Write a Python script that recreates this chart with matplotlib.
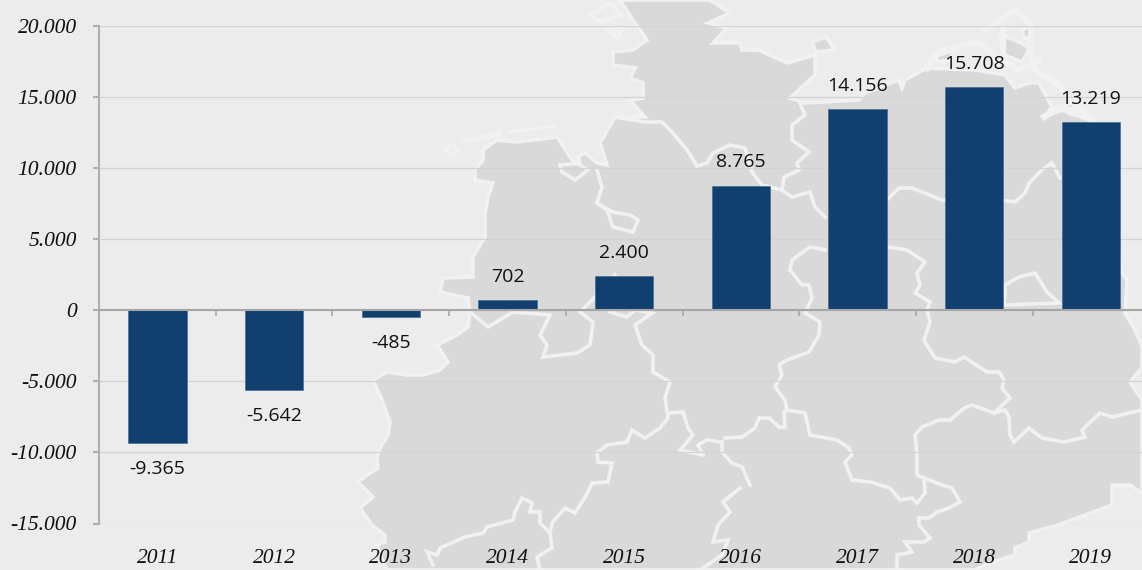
import matplotlib
matplotlib.use("Agg")
import matplotlib.pyplot as plt
from matplotlib.patches import Polygon

years = ["2011", "2012", "2013", "2014", "2015", "2016", "2017", "2018", "2019"]
values = [-9365, -5642, -485, 702, 2400, 8765, 14156, 15708, 13219]
value_labels = ["-9.365", "-5.642", "-485", "702", "2.400", "8.765", "14.156", "15.708", "13.219"]
y_ticks = [20000, 15000, 10000, 5000, 0, -5000, -10000, -15000]
y_tick_labels = ["20.000", "15.000", "10.000", "5.000", "0", "-5.000", "-10.000", "-15.000"]

BG = "#ececec"
LAND = "#d9d9d9"
STROKE = "#f1f1f1"
BAR = "#113f6f"

W, H = 1142, 570
fig = plt.figure(figsize=(W / 100, H / 100), dpi=100, facecolor=BG)

# decorative background map, in picture pixels
bg = fig.add_axes([0, 0, 1, 1], zorder=0)
bg.set_xlim(0, W)
bg.set_ylim(H, 0)
bg.axis("off")

land = [
    (615, 117), (600, 143), (607, 165), (597, 163), (585, 153), (578, 157), (580, 163), (560, 165), (562, 172),
    (575, 180), (588, 170), (572, 160), (557, 137), (517, 142), (497, 140), (483, 150), (483, 160), (475, 170),
    (475, 180), (493, 183), (488, 197), (485, 213), (485, 237), (473, 257), (473, 277), (443, 278), (440, 292),
    (468, 298), (470, 312), (468, 327), (457, 335), (437, 345), (448, 362), (440, 370), (423, 375), (407, 375),
    (387, 372), (373, 380), (382, 400), (390, 422), (388, 435), (380, 448), (377, 457), (378, 468), (367, 475),
    (358, 482), (373, 497), (360, 508), (372, 525), (385, 535), (385, 542), (377, 545), (383, 562), (387, 570),
    (975, 570), (992, 562), (1015, 555), (1015, 548), (1029, 542), (1029, 533), (1058, 525), (1085, 515),
    (1112, 505), (1112, 485), (1130, 485), (1142, 493), (1142, 400), (1130, 382), (1142, 367), (1142, 347),
    (1135, 330), (1125, 313), (1127, 280), (1120, 270), (1110, 140), (1089, 120), (1062, 110), (1044, 117),
    (1052, 107), (1039, 83), (1029, 83), (1015, 88), (1005, 75), (975, 70), (927, 68), (905, 80), (902, 88),
    (899, 80), (865, 93), (859, 100), (805, 103), (790, 98), (815, 75), (815, 55), (787, 63), (759, 50),
    (742, 50), (740, 43), (713, 43), (727, 28), (708, 23), (730, 13), (710, 0), (620, 0), (633, 20), (647, 40),
    (633, 50), (613, 52), (613, 65), (635, 68), (630, 78), (643, 83), (643, 98), (630, 100), (645, 117),
]
islands = [
    [(812, 42), (826, 37), (835, 50), (816, 52)],
    [(1000, 35), (1015, 40), (1030, 48), (1022, 62), (1005, 55)],
    [(1022, 30), (1032, 26), (1032, 38), (1024, 38)],
    [(1060, 108), (1075, 100), (1088, 118), (1070, 114)],
    [(938, 50), (955, 46), (950, 60), (936, 62)],
]
small_outline = [
    [(445, 150), (453, 144), (458, 150), (450, 155), (445, 150)],
    [(462, 140), (500, 133), (500, 135), (462, 142)],
    [(510, 132), (555, 126)],
    [(590, 15), (610, 3), (622, 15), (600, 22), (590, 15)],
    [(607, 30), (622, 28), (618, 38), (607, 30)],
]
baltic_band = [
    [(927, 68), (935, 55), (975, 42), (990, 50), (1002, 70)],
    [(985, 30), (1000, 20), (1015, 10), (1032, 25), (1030, 45)],
    [(1003, 30), (1003, 60), (1018, 70), (1040, 60)],
    [(1030, 50), (1035, 70), (1060, 85), (1070, 100), (1090, 118)],
    [(1044, 117), (1060, 108), (1085, 112)],
]
for poly in [land] + islands:
    bg.add_patch(Polygon(poly, closed=True, facecolor=LAND, edgecolor=STROKE, linewidth=2.6, joinstyle="miter"))

borders = [
    [(615, 117), (645, 122), (662, 122), (673, 133), (687, 150), (697, 166), (707, 163), (713, 153), (730, 145),
     (745, 148), (752, 172), (762, 185), (782, 190)],
    [(597, 170), (602, 187), (597, 203), (607, 210), (613, 227), (633, 232), (638, 220), (630, 215), (613, 212), (597, 203)],
    [(470, 312), (488, 327), (513, 312), (550, 315), (540, 335), (547, 345), (543, 357), (577, 353), (590, 345),
     (593, 322), (580, 312), (595, 297), (615, 275)],
    [(610, 312), (627, 317), (635, 310), (652, 313), (635, 325), (642, 345), (653, 355), (653, 372), (670, 382),
     (665, 398), (668, 418), (660, 428), (645, 438), (632, 430), (627, 442), (607, 445), (597, 453), (598, 462),
     (612, 463), (608, 482), (592, 483), (588, 492), (575, 513), (565, 508), (552, 523), (550, 533), (552, 548),
     (537, 557), (540, 570)],
    [(515, 512), (522, 498), (532, 503), (530, 512), (540, 512), (540, 523), (550, 533)],
    [(515, 512), (513, 520), (487, 527), (483, 533), (465, 537), (440, 548), (437, 555), (427, 552), (433, 565)],
    [(668, 413), (683, 412), (688, 428), (693, 435), (680, 450), (703, 455)],
    [(703, 455), (698, 445), (707, 440), (722, 442), (722, 452), (732, 463), (742, 467), (750, 485)],
    [(725, 438), (742, 437), (755, 428), (759, 418), (769, 418), (779, 427), (785, 427), (784, 412), (787, 410),
     (805, 413), (810, 435), (837, 440), (849, 448), (852, 455), (845, 462), (852, 480), (870, 482), (890, 488),
     (900, 500), (912, 498), (917, 503), (925, 493), (924, 478), (917, 475), (917, 455), (915, 435), (922, 427),
     (939, 420), (950, 420), (964, 408), (972, 405), (994, 413), (1010, 398), (1002, 388), (1004, 380), (999, 372),
     (987, 372), (964, 357), (955, 362), (935, 358), (924, 340), (930, 322), (927, 310), (930, 302), (915, 293),
     (920, 285), (917, 273), (925, 262), (907, 250), (887, 247)],
    [(994, 413), (1005, 410), (1009, 417), (1010, 435), (1014, 442), (1029, 428), (1042, 438), (1064, 442),
     (1085, 437), (1082, 430), (1100, 413), (1112, 417), (1142, 410)],
    [(924, 478), (942, 485), (952, 488), (960, 502), (949, 508), (937, 512), (929, 518), (919, 518), (919, 525),
     (930, 538), (924, 542), (905, 542), (912, 552), (897, 555), (897, 570)],
    [(740, 488), (723, 502), (730, 512), (718, 525), (713, 542), (728, 540), (722, 555), (700, 570)],
    [(787, 410), (785, 400), (775, 387), (782, 375), (779, 365), (787, 360), (809, 352), (819, 335), (820, 322),
     (805, 313), (812, 298), (809, 285), (802, 285), (790, 270), (792, 260), (810, 247), (825, 250)],
    [(825, 217), (815, 207), (810, 192), (792, 197), (782, 190), (784, 177), (799, 170), (797, 163), (809, 152),
     (792, 140), (792, 125), (805, 115), (800, 103)],
    [(887, 200), (899, 188), (912, 188), (942, 200), (1002, 200), (1015, 202), (1025, 193), (1029, 183), (1042, 170),
     (1052, 163), (1060, 178)],
    [(1005, 292), (1004, 305), (1059, 303), (1047, 292), (1035, 273), (1019, 277), (1005, 285), (1005, 292)],
]
for line in borders + small_outline:
    xs, ys = zip(*line)
    bg.plot(xs, ys, color=STROKE, linewidth=2.6, solid_joinstyle="miter")
for line in baltic_band:
    xs, ys = zip(*line)
    bg.plot(xs, ys, color=STROKE, linewidth=4.5, solid_joinstyle="miter")

# chart axes: left spine at px 99, 116.7 px per category
X0, STEP = 99.0, 116.7
Y_TOP, Y_BOT = 26.0, 523.5
ax = fig.add_axes([X0 / W, 1 - Y_BOT / H, (W - X0) / W, (Y_BOT - Y_TOP) / H], zorder=1)
ax.patch.set_alpha(0)
ax.set_xlim(-0.5, -0.5 + (W - X0) / STEP)
ax.set_ylim(-15000, 20000)

positions = list(range(len(years)))
ax.bar(positions, values, width=0.5, color=BAR, edgecolor="#3d638b", linewidth=0.4, zorder=3)
ax.set_axisbelow(True)
ax.yaxis.grid(True, color="#d3d3d3", linewidth=0.9)
ax.xaxis.grid(False)

for s in ("top", "right"):
    ax.spines[s].set_visible(False)
ax.spines["left"].set_color("#b0b0b0")
ax.spines["left"].set_linewidth(1.5)
ax.spines["bottom"].set_position(("data", 0))
ax.spines["bottom"].set_color("#a6a6a6")
ax.spines["bottom"].set_linewidth(1.5)
ax.spines["bottom"].set_zorder(4)

serif = dict(family="Liberation Serif", style="italic", size=15.5, color="#111111")
ax.set_yticks(y_ticks)
ax.set_yticklabels(y_tick_labels, **serif)
ax.tick_params(axis="y", length=4.5, width=1.5, color="#b0b0b0", pad=11.5)
ax.set_xticks(positions)
ax.set_xticklabels(years, **serif)
ax.set_xticks([p + 0.5 for p in positions[:-1]] + [-0.5], minor=True)
ax.tick_params(axis="x", which="major", length=0, pad=172)
ax.tick_params(axis="x", which="minor", length=4.5, width=1.2, color="#a6a6a6")

for p, v, lab in zip(positions, values, value_labels):
    off = 23.5 if v >= 0 else -25.5
    ax.annotate(lab, (p, v), xytext=(0, off * 0.72), textcoords="offset points", ha="center", va="center",
                family="Open Sans", fontsize=14, color="#111111", zorder=5)

fig.savefig("out.png", dpi=100, facecolor=BG)
